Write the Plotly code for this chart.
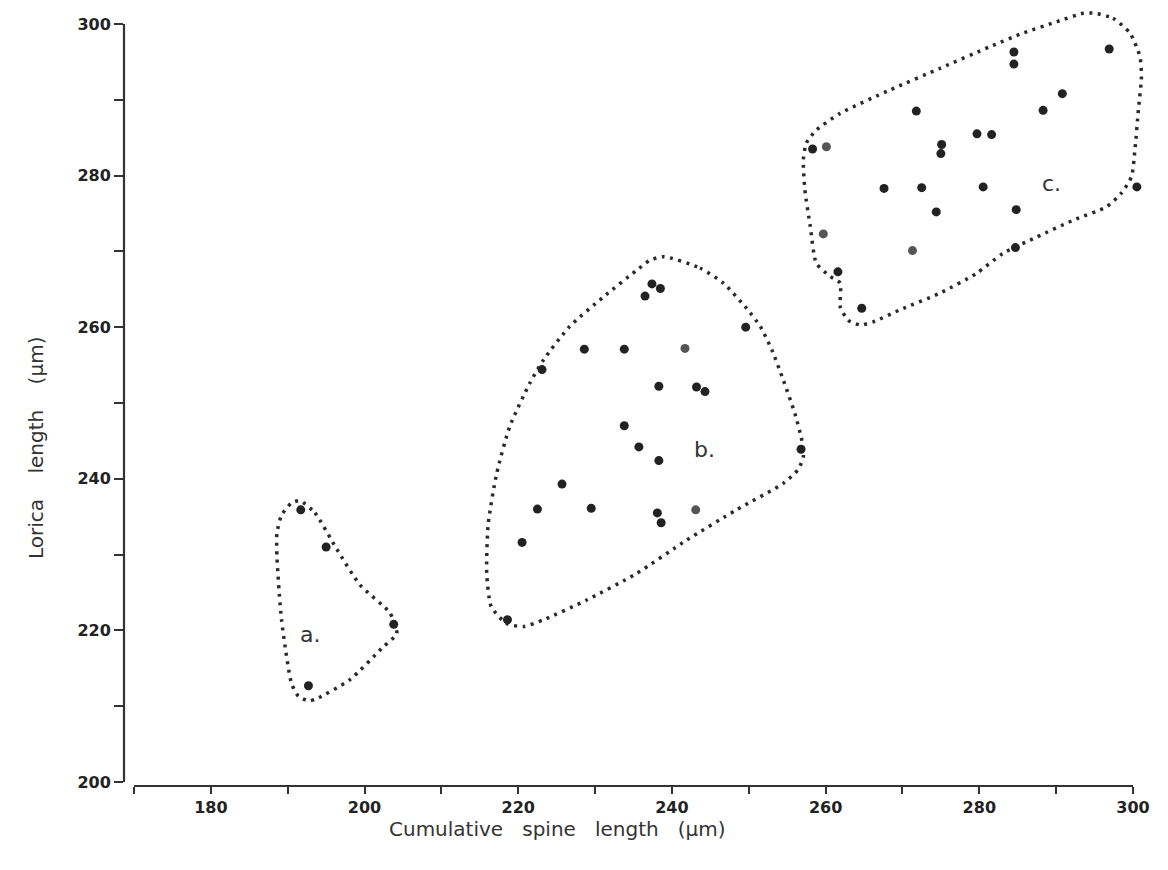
import plotly.graph_objects as go

# ---------------- data ----------------
# group a
a_x = [191.7, 195.0, 203.8, 192.7]
a_y = [235.9, 231.0, 220.8, 212.7]
a_faint = [0, 0, 0, 0]

# group b
b_x = [237.4, 238.5, 236.5, 249.6, 228.6, 233.8, 241.7, 223.1, 238.3, 243.2,
       244.3, 233.8, 235.7, 238.3, 256.8, 225.7, 222.5, 229.5, 238.1, 243.1,
       238.6, 220.5, 218.6]
b_y = [265.7, 265.1, 264.1, 260.0, 257.1, 257.1, 257.2, 254.4, 252.2, 252.1,
       251.5, 247.0, 244.2, 242.4, 243.9, 239.3, 236.0, 236.1, 235.5, 235.9,
       234.2, 231.6, 221.4]
b_faint = [0, 0, 0, 0, 0, 0, 1, 0, 0, 0,
           0, 0, 0, 0, 0, 0, 0, 0, 0, 1,
           0, 0, 0]

# group c
c_x = [284.5, 284.5, 296.9, 290.8, 288.3, 271.8, 279.7, 281.6, 275.1, 275.0,
       258.3, 260.1, 267.6, 272.5, 280.5, 300.5, 274.4, 284.8, 259.7, 271.3,
       284.7, 261.6, 264.7]
c_y = [296.3, 294.7, 296.7, 290.8, 288.6, 288.5, 285.5, 285.4, 284.1, 282.9,
       283.5, 283.8, 278.3, 278.4, 278.5, 278.5, 275.2, 275.5, 272.3, 270.1,
       270.5, 267.3, 262.5]
c_faint = [0, 0, 0, 0, 0, 0, 0, 0, 0, 0,
           0, 1, 0, 0, 0, 0, 0, 0, 1, 1,
           0, 0, 0]

# hand-drawn dotted envelopes
hull_a_x = [191.6, 193.55, 196.4, 199.4, 203.3, 204.2, 202.4, 198.1, 193.8, 192.8,
            191.4, 190.5, 189.2, 188.6, 188.6, 189.2, 190.5, 191.6]
hull_a_y = [237.1, 235.5, 230.7, 226.0, 222.3, 219.6, 217.8, 213.5, 211.0, 210.7,
            211.3, 213.0, 221.4, 229.7, 232.8, 235.2, 236.8, 237.1]

hull_b_x = [238.9, 243.65, 246.7, 249.7, 251.5, 253.0, 254.5, 256.0, 256.9, 257.1,
            256.4, 254.5, 248.4, 241.9, 235.4, 228.9, 223.3, 220.7, 218.5, 216.5,
            215.9, 216.1, 217.2, 218.9, 221.5, 223.3, 226.7, 231.1, 235.4, 237.1, 238.9]
hull_b_y = [269.3, 267.8, 265.8, 262.5, 260.1, 257.0, 253.0, 248.6, 245.1, 242.9,
            241.2, 239.4, 235.9, 231.9, 227.5, 224.0, 221.4, 220.5, 220.9, 223.1,
            227.5, 234.1, 240.7, 246.9, 252.6, 255.7, 260.1, 264.0, 267.5, 268.8, 269.3]

hull_c_x = [295.05, 297.4, 299.6, 300.9, 301.1, 300.7, 300.25, 299.8, 298.5, 296.6,
            292.2, 287.5, 283.1, 279.65, 274.9, 269.7, 266.2, 264.5, 262.95, 261.9,
            261.9, 260.6, 258.8, 258.0, 257.3, 257.1, 257.5, 258.8, 261.9, 268.4,
            274.9, 281.4, 285.7, 290.1, 293.5, 295.05]
hull_c_y = [301.4, 300.75, 298.8, 295.7, 293.05, 288.65, 283.4, 279.85, 277.7, 275.9,
            274.1, 271.9, 269.75, 267.1, 264.5, 262.3, 260.7, 260.3, 260.9, 262.7,
            265.8, 266.7, 268.4, 273.3, 278.1, 282.1, 284.3, 286.0, 288.2, 291.3,
            294.15, 297.0, 298.8, 300.3, 301.4, 301.4]

group_labels = ["a.", "b.", "c."]
label_x = [192.9, 244.3, 289.45]
label_y = [219.4, 243.8, 279.0]

x_ticks = list(range(170, 301, 10))
x_ticktext = ["" if (v == 170 or v % 20) else str(v) for v in x_ticks]
y_ticks = list(range(200, 301, 10))
y_ticktext = ["" if v % 20 else str(v) for v in y_ticks]

x_title = "Cumulative spine length (\u03bcm)"
y_title = "Lorica length (\u03bcm)"

# ---------------- figure ----------------
INK = "#222222"
FAINT = "#555555"

fig = go.Figure()

for hx, hy in [(hull_a_x, hull_a_y), (hull_b_x, hull_b_y), (hull_c_x, hull_c_y)]:
    fig.add_trace(go.Scatter(
        x=hx, y=hy, mode="lines",
        line=dict(color="#2a2a2a", width=3.5, dash="3px,5.5px", shape="spline", smoothing=0.6),
        hoverinfo="skip", showlegend=False))

for gx, gy, gf in [(a_x, a_y, a_faint), (b_x, b_y, b_faint), (c_x, c_y, c_faint)]:
    fig.add_trace(go.Scatter(
        x=gx, y=gy, mode="markers",
        marker=dict(size=9, color=[FAINT if f else INK for f in gf], line=dict(width=0)),
        cliponaxis=False, showlegend=False))

for t, lx, ly in zip(group_labels, label_x, label_y):
    fig.add_annotation(x=lx, y=ly, text=t, showarrow=False,
                       font=dict(family="DejaVu Sans", size=22, color="#333333"))

# axis titles (hand-lettered, widely spaced in the original)
gap = "\u00a0" * 3
fig.add_annotation(xref="paper", yref="paper", x=0.423, y=-0.0553,
                   xanchor="center", yanchor="middle", showarrow=False,
                   text=x_title.replace(" ", gap),
                   font=dict(family="DejaVu Sans", size=20, color="#333333"))
gap_y = "\u00a0" * 4
fig.add_annotation(xref="paper", yref="paper", x=-0.0859, y=0.435,
                   xanchor="center", yanchor="middle", showarrow=False, textangle=-90,
                   text=y_title.replace(" ", gap_y),
                   font=dict(family="DejaVu Sans", size=20, color="#333333"))

# axis lines limited to the tick span, like the original drawing
fig.add_shape(type="line", xref="paper", yref="y", x0=0, x1=0,
              y0=y_ticks[0], y1=y_ticks[-1], line=dict(color="#333333", width=2.2))
fig.add_shape(type="line", xref="x", yref="paper", y0=0, y1=0,
              x0=x_ticks[0], x1=x_ticks[-1], line=dict(color="#333333", width=2))

tickfont = dict(family="DejaVu Sans", size=16, color="#222222", weight="bold")

fig.update_layout(
    width=1160, height=862,
    margin=dict(l=116, r=20, t=1, b=84),
    paper_bgcolor="white", plot_bgcolor="white",
    showlegend=False,
    xaxis=dict(
        range=[168.70, 301.95], tickmode="array", tickvals=x_ticks, ticktext=x_ticktext,
        ticks="outside", ticklen=7, tickwidth=2, tickcolor="#333333",
        showline=False, showgrid=False, zeroline=False, tickfont=tickfont,
    ),
    yaxis=dict(
        range=[199.47, 301.97], tickmode="array", tickvals=y_ticks, ticktext=y_ticktext,
        ticks="outside", ticklen=9, tickwidth=2, tickcolor="#333333",
        showline=False, showgrid=False, zeroline=False, tickfont=tickfont,
    ),
)

fig.write_html("out.html")
